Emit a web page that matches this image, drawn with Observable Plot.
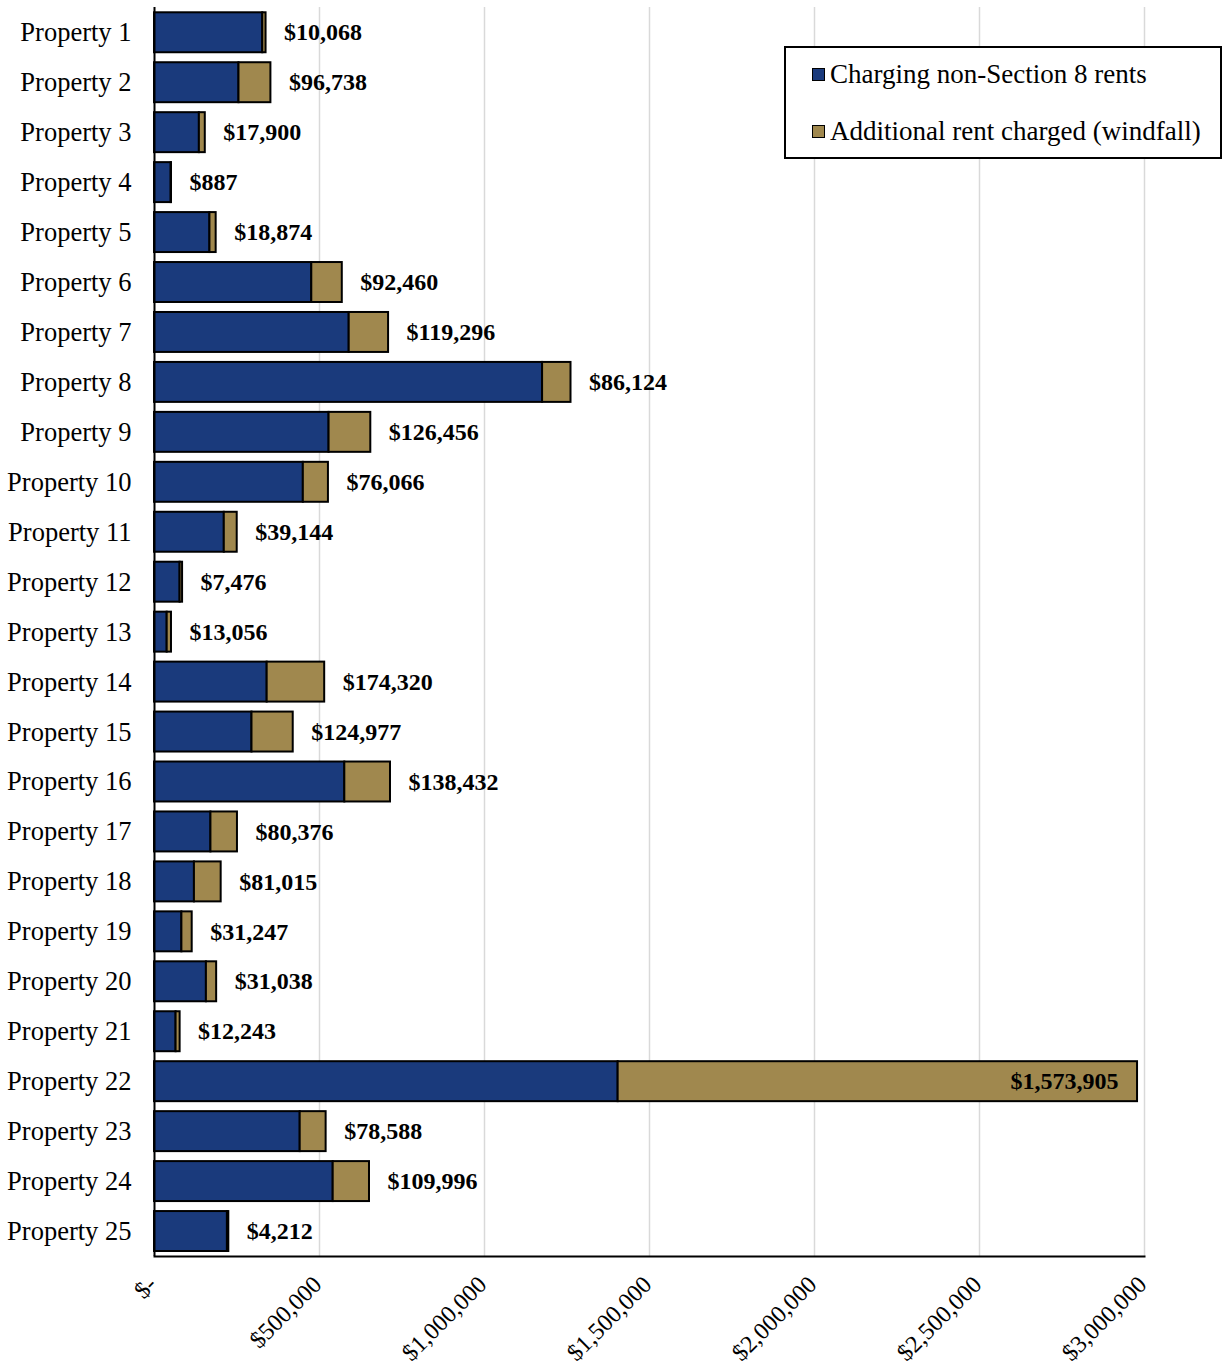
<!DOCTYPE html>
<html>
<head>
<meta charset="utf-8">
<script src="https://cdn.jsdelivr.net/npm/d3@7"></script>
<script src="https://cdn.jsdelivr.net/npm/@observablehq/plot@0.6"></script>
<style>
  html, body { margin: 0; padding: 0; background: #fff; }
  #wrap { position: relative; width: 1225px; height: 1366px; font-family: "Liberation Serif", "Times New Roman", serif; }
  #legend { position: absolute; left: 784px; top: 46px; width: 434px; height: 109px; border: 2px solid #000; background: #fff; }
  .row { position: absolute; left: 26px; display: flex; align-items: center; font-size: 27px; color: #000; white-space: nowrap; }
  .sw { width: 11px; height: 11px; border: 1.5px solid #000; margin-right: 5px; }
</style>
</head>
<body>
<div id="wrap">
  <div id="chart"></div>
  <div id="legend"></div>
</div>
<script>
const categories = ["Property 1","Property 2","Property 3","Property 4","Property 5","Property 6","Property 7","Property 8","Property 9","Property 10","Property 11","Property 12","Property 13","Property 14","Property 15","Property 16","Property 17","Property 18","Property 19","Property 20","Property 21","Property 22","Property 23","Property 24","Property 25"];
const baseRent = [328000, 256000, 136000, 50600, 168000, 476600, 590000, 1176000, 529000, 451000, 211500, 77600, 38400, 341400, 295400, 576700, 171000, 121000, 83000, 157300, 65400, 1405000, 441500, 541500, 221000];
const windfall = [10068, 96738, 17900, 887, 18874, 92460, 119296, 86124, 126456, 76066, 39144, 7476, 13056, 174320, 124977, 138432, 80376, 81015, 31247, 31038, 12243, 1573905, 78588, 109996, 4212];
const seriesNames = ["Charging non-Section 8 rents", "Additional rent charged (windfall)"];
const seriesColors = ["#1a3a7c", "#a0884e"];
const xTicks = [0, 500000, 1000000, 1500000, 2000000, 2500000, 3000000];

const rows = [];
categories.forEach((c, i) => {
  rows.push({cat: c, series: seriesNames[0], value: baseRent[i]});
  rows.push({cat: c, series: seriesNames[1], value: windfall[i]});
});
const totals = categories.map((c, i) => ({cat: c, total: baseRent[i] + windfall[i], label: "$" + d3.format(",")(windfall[i])}));
const insideLimit = 2500000;

const money = d => d === 0 ? "$-" : "$" + d3.format(",")(d);

const chart = Plot.plot({
  width: 1225,
  height: 1366,
  marginLeft: 154,
  marginRight: 81,
  marginTop: 7,
  marginBottom: 110,
  style: {fontFamily: "Liberation Serif, Times New Roman, serif", background: "#fff", color: "#000"},
  x: {domain: [0, 3000000]},
  y: {domain: categories, padding: 0.2, range: [2.3, 1261], round: false},
  color: {domain: seriesNames, range: seriesColors},
  marks: [
    Plot.gridX(xTicks.slice(1), {stroke: "#d9d9d9", strokeOpacity: 1, strokeWidth: 1.5}),
    Plot.barX(rows, Plot.stackX({y: "cat", x: "value", fill: "series", stroke: "#000", strokeWidth: 2})),
    Plot.text(totals.filter(d => d.total < insideLimit), {x: "total", y: "cat", text: "label", textAnchor: "start", dx: 18, fontSize: 24, fontWeight: "bold", fill: "#000"}),
    Plot.text(totals.filter(d => d.total >= insideLimit), {x: "total", y: "cat", text: "label", textAnchor: "end", dx: -19, fontSize: 24, fontWeight: "bold", fill: "#000"}),
    Plot.ruleX([0], {stroke: "#000", strokeWidth: 2}),
    Plot.frame({anchor: "bottom", stroke: "#000", strokeWidth: 2}),
    Plot.axisY({tickSize: 0, tickPadding: 23, fontSize: 26.5, label: null}),
    Plot.axisX({ticks: xTicks, tickFormat: money, tickRotate: -45, tickSize: 0, tickPadding: 24, dx: -2, fontSize: 24, label: null})
  ]
});
document.getElementById("chart").appendChild(chart);

const legend = document.getElementById("legend");
seriesNames.forEach((name, i) => {
  const row = document.createElement("div");
  row.className = "row";
  row.style.top = (i === 0 ? 11 : 68) + "px";
  const sw = document.createElement("div");
  sw.className = "sw";
  sw.style.background = seriesColors[i];
  const t = document.createElement("span");
  t.textContent = name;
  row.appendChild(sw);
  row.appendChild(t);
  legend.appendChild(row);
});
</script>
</body>
</html>
